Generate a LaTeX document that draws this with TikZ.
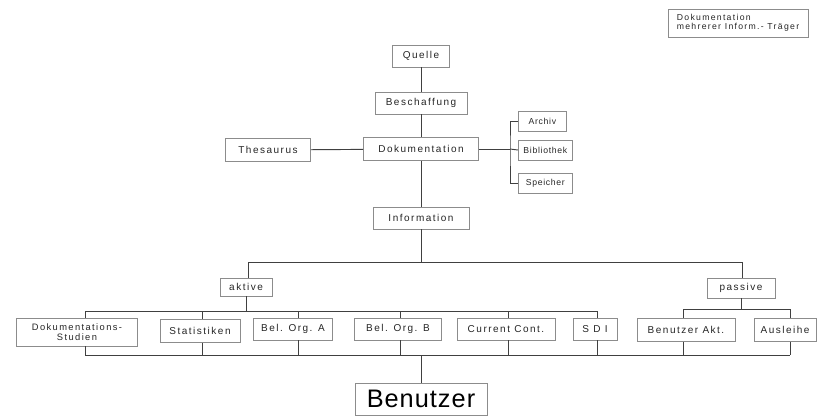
\documentclass[tikz,border=0pt]{standalone}
\usepackage{fontspec}
\setmainfont{Liberation Sans}[LetterSpace=15]
\newfontfamily\bigfont{Liberation Sans}[LetterSpace=4]
\newfontfamily\smallfont{Liberation Sans}[LetterSpace=8]
\begin{document}
\begin{tikzpicture}[x=0.75pt,y=-0.75pt,
  box/.style={draw=black!45,line width=0.5pt,inner sep=1pt,font=\fontsize{7.5}{8}\selectfont,text=black!85,align=center},
  small/.style={box,font=\smallfont\fontsize{6.5}{7}\selectfont,anchor=west,minimum height=15pt},
  conn/.style={draw=black!75,line width=0.7pt}]
\useasboundingbox[fill=white] (0,0) rectangle (817,419);
% top-right note
\node[box,minimum width=105pt,minimum height=21pt,align=left,font=\fontsize{6.5}{7}\selectfont] (note) at (738,23) {Dokumentation\\mehrerer Inform.- Träger};
% main column
\node[box,minimum width=42.75pt,minimum height=16.5pt] (quelle) at (421,56) {Quelle};
\node[box,minimum width=69pt,minimum height=16.5pt] (besch) at (421,103) {Beschaffung};
\node[box,minimum width=86.25pt,minimum height=17.25pt] (doku) at (421,149) {Dokumentation};
\node[box,minimum width=63.75pt,minimum height=17.25pt] (thes) at (268,150) {Thesaurus};
\node[small,minimum width=36pt] (archiv) at (518,121) {Archiv};
\node[small,minimum width=40.5pt] (biblio) at (518,150) {Bibliothek};
\node[small,minimum width=40.5pt] (speicher) at (518,183) {Speicher};
\node[box,minimum width=72pt,minimum height=16.5pt] (info) at (421,218) {Information};
\node[box,minimum width=39pt,minimum height=13.5pt] (aktive) at (246,287) {aktive};
\node[box,minimum width=51pt,minimum height=15pt] (passive) at (741,288) {passive};
% lower row
\node[box,minimum width=90.75pt,minimum height=21pt,font=\fontsize{7}{7}\selectfont] (dokst) at (77,332) {Dokumentations-\\Studien};
\node[box,minimum width=60pt,minimum height=17.25pt] (stat) at (200,331) {Statistiken};
\node[box,minimum width=59.25pt,minimum height=16.5pt] (belA) at (293,329) {Bel. Org. A};
\node[box,minimum width=65.25pt,minimum height=16.5pt] (belB) at (398,329) {Bel. Org. B};
\node[box,minimum width=73.5pt,minimum height=16.5pt] (curr) at (506,329) {Current Cont.};
\node[box,minimum width=33pt,minimum height=16.5pt] (sdi) at (595,329) {S D I};
\node[box,minimum width=73.5pt,minimum height=17.25pt] (bakt) at (686,330) {Benutzer Akt.};
\node[box,minimum width=46.5pt,minimum height=17.25pt] (ausl) at (785,330) {Ausleihe};
\node[box,minimum width=99pt,minimum height=24pt,font=\bigfont\fontsize{19}{20}\selectfont,text=black] (benutzer) at (421,399) {Benutzer};
% bus coordinates
\coordinate (infobus) at (421,262);
\coordinate (busL) at (248,262);
\coordinate (busR) at (742,262);
\coordinate (ab) at (246,311);
\coordinate (abL) at (85,311);
\coordinate (abR) at (597,311);
\coordinate (pb) at (741,309);
\coordinate (pbL) at (683,309);
\coordinate (pbR) at (790,309);
\coordinate (botL) at (85,355);
\coordinate (botR) at (790,355);
\coordinate (botC) at (421,355);
\coordinate (br) at (510,149);
% connectors
\draw[conn] (quelle) -- (besch);
\draw[conn] (besch) -- (doku);
\draw[conn] (thes) -- (doku);
\draw[conn] (doku) -- (br);
\draw[conn] (archiv.west) -| (br) |- (speicher.west);
\draw[conn] (br) -- (biblio.west);
\draw[conn] (doku) -- (info);
\draw[conn] (info) -- (infobus);
\draw[conn] (busL) -- (busR);
\draw[conn] (busL) -- (busL |- aktive.north);
\draw[conn] (busR) -- (busR |- passive.north);
\draw[conn] (aktive) -- (ab);
\draw[conn] (abL) -- (abR);
\draw[conn] (passive) -- (pb);
\draw[conn] (pbL) -- (pbR);
\draw[conn] (botL) -- (botR);
\draw[conn] (botC) -- (benutzer);
% drops to the boxes and down to the collecting line
\foreach \n/\x/\yt in {dokst/85/311, stat/202/311, belA/298/311, belB/400/311, curr/508/311, sdi/597/311, bakt/683/309, ausl/790/309}{
  \draw[conn] (\x,\yt) -- (\x,\yt |- \n.north);
  \draw[conn] (\x,\yt |- \n.south) -- (\x,355);
}
\end{tikzpicture}
\end{document}
